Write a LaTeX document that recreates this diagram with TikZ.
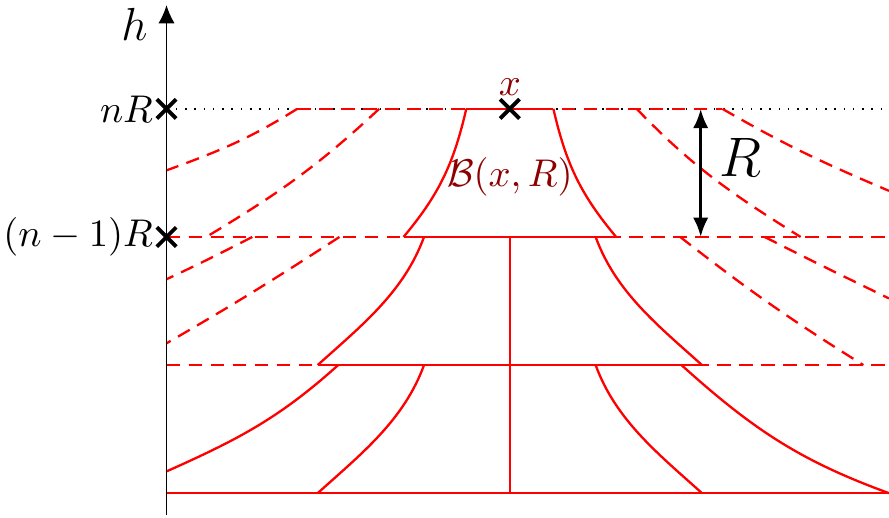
\documentclass[tikz,border=0pt]{standalone}
\usepackage{amsmath}
\usetikzlibrary{arrows.meta,shapes.misc}

\begin{document}
\begin{tikzpicture}[x=1.165cm,y=1.165cm,
  cell/.style={draw=red, semithick},
  ghost/.style={draw=red, semithick, dash pattern=on 3.5pt off 2.2pt},
  xmark/.style={cross out, draw=black, line width=1pt,
                minimum size=4pt, inner sep=0pt},
  lbl/.style={text=red!55!black}
]
\useasboundingbox (-3.98,-0.19) rectangle (2.96,3.85);

%% levels
\draw[dotted] (-2.68,3) -- (2.96,3);
\draw[ghost] (-1.66,3) -- (1.66,3);
\draw[ghost] (-2.68,2) -- (2.96,2);
\draw[ghost] (-2.68,1) -- (2.96,1);
\draw[cell] (-2.68,0) -- (2.96,0);

%% dashed branches, top band
\draw[ghost] (-1.66,3) to[out=212,in=20] (-2.68,2.52);
\draw[ghost] (-1.02,3) to[out=223,in=31] (-2.37,2);
\draw[ghost] (0.99,3) to[out=-46,in=148] (2.27,2);
\draw[ghost] (1.66,3) to[out=-30,in=157] (2.96,2.36);

%% dashed branches, middle band
\draw[ghost] (-1.33,2) to[out=213,in=30] (-2.68,1.17);
\draw[ghost] (-2.01,2) to[out=207,in=25] (-2.68,1.67);
\draw[ghost] (1.33,2) to[out=-38,in=148] (2.76,1);
\draw[ghost] (1.99,2) to[out=-27,in=154] (2.96,1.52);

%% the ball and the cells below it
\draw[cell] (-0.34,3) -- (0.34,3);
\draw[cell] (-0.34,3) to[out=257,in=50] (-0.83,2);
\draw[cell] (0.34,3) to[out=-77,in=130] (0.83,2);
\draw[cell] (-0.83,2) -- (0.83,2);
\draw[cell] (-0.67,2) to[out=250,in=42,looseness=0.9] (-1.5,1);
\draw[cell] (0.67,2) to[out=-70,in=138,looseness=0.9] (1.5,1);
\draw[cell] (-1.5,1) -- (1.5,1);
\draw[cell] (0,2) -- (0,0);
\draw[cell] (-0.67,1) to[out=250,in=42,looseness=0.9] (-1.5,0);
\draw[cell] (0.67,1) to[out=-70,in=138,looseness=0.9] (1.5,0);
\draw[cell] (-1.34,1) to[out=222,in=24] (-2.68,0.17);
\draw[cell] (1.34,1) to[out=-42,in=160] (2.96,0);

%% axis
\draw[-{Latex[length=4.7pt,width=4.2pt]}] (-2.68,-0.17) -- (-2.68,3.81);
\node[font=\large] (hlab) at (-2.93,3.66) {$h$};
\node[xmark] (xn) at (-2.68,3) {};
\node[xmark] (xn1) at (-2.68,2) {};
\node[left] (lnR) at (xn.center) {$nR$};
\node[left] (ln1R) at (xn1.center) {$(n-1)R$};

%% centre point and radius
\node[xmark] (xpt) at (0,3) {};
\node[lbl,above] (lx) at (xpt.center) {$x$};
\node[lbl] (ball) at (0,2.47) {$\mathcal{B}(x,R)$};
\coordinate (rtop) at (1.49,3);
\coordinate (rbot) at (1.49,2);
\draw[thick,{Latex[length=5pt,width=4pt]}-{Latex[length=5pt,width=4pt]}]
  (rtop) -- (rbot);
\node[font=\Large] (Rlab) at (1.80,2.62) {$R$};

\end{tikzpicture}
\end{document}
